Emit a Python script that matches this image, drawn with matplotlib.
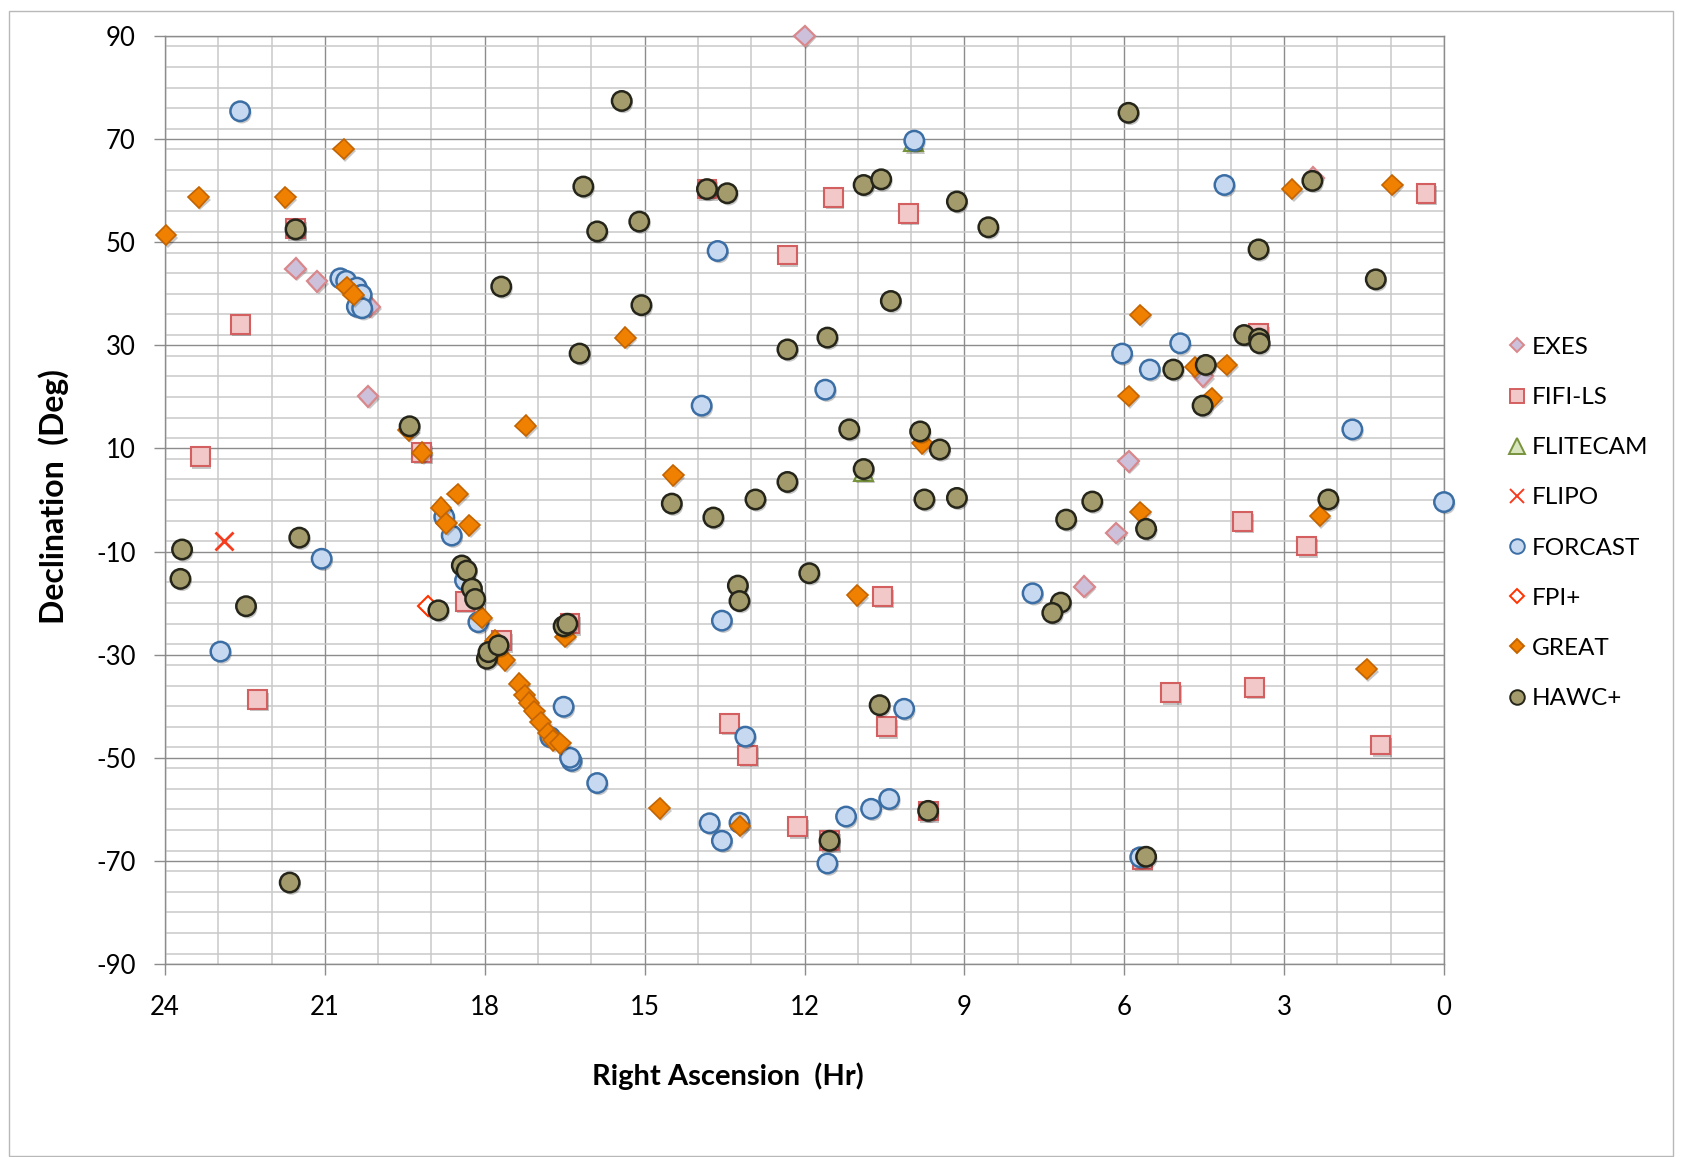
import matplotlib
matplotlib.use("Agg")
import matplotlib.pyplot as plt
import matplotlib.patheffects as pe
from matplotlib.lines import Line2D
from matplotlib.patches import Rectangle
from matplotlib.ticker import MultipleLocator

plt.rcParams['font.family'] = ['Lato', 'DejaVu Sans']
plt.rcParams['axes.unicode_minus'] = False

# target positions per instrument: right ascension (hr), declination (deg)
exes_ra = [12.0, 21.55, 21.15, 20.15, 20.19, 5.92, 6.15, 6.75, 4.52, 2.45]
exes_dec = [90.0, 44.9, 42.4, 37.5, 20.1, 7.5, -6.4, -16.8, 24.0, 62.5]

fifi_ra = [22.59, 23.34, 22.26, 19.18, 21.55, 18.37, 17.68, 16.40, 13.41, 13.07,
           12.13, 10.53, 10.46, 11.53, 9.68, 11.46, 10.05, 12.32, 13.83, 0.34,
           3.78, 2.58, 3.48, 5.13, 3.56, 1.19, 5.66]
fifi_dec = [34.1, 8.4, -38.7, 9.2, 52.6, -19.7, -27.3, -24.0, -43.3, -49.5,
            -63.4, -18.7, -44.0, -66.1, -60.3, 58.7, 55.6, 47.5, 60.3, 59.5,
            -4.1, -8.9, 32.3, -37.4, -36.3, -47.5, -69.7]

flitecam_ra = [9.95, 10.89]
flitecam_dec = [69.5, 5.6]

flipo_ra = [22.9]
flipo_dec = [-8.0]

forcast_ra = [22.59, 20.71, 20.60, 20.40, 20.31, 20.40, 20.30, 21.06, 22.96, 18.76,
              18.62, 18.37, 18.12, 16.52, 16.77, 16.37, 16.40, 15.89, 13.78, 13.55,
              13.22, 13.55, 13.11, 11.57, 11.22, 10.75, 10.41, 10.13, 13.63, 9.94,
              13.93, 11.61, 4.12, 6.04, 4.95, 5.52, 1.72, 0.0, 7.72, 5.70]
forcast_dec = [75.4, 43.0, 42.5, 41.2, 39.8, 37.5, 37.2, -11.4, -29.4, -3.3,
               -6.9, -15.6, -23.7, -40.1, -46.0, -50.6, -50.0, -54.9, -62.7, -66.1,
               -62.6, -23.4, -45.9, -70.5, -61.4, -59.9, -58.0, -40.5, 48.3, 69.7,
               18.3, 21.4, 61.1, 28.4, 30.4, 25.3, 13.7, -0.4, -18.1, -69.3]

fpi_ra = [19.06]
fpi_dec = [-20.6]

great_ra = [20.65, 23.37, 21.74, 23.98, 20.59, 20.46, 17.23, 19.18, 19.43, 18.51,
            18.82, 18.72, 18.29, 18.06, 17.80, 17.62, 17.35, 17.25, 17.17, 17.07,
            16.95, 16.81, 16.71, 16.58, 14.72, 13.21, 11.01, 16.49, 15.36, 14.46,
            9.79, 5.70, 5.92, 4.67, 4.08, 4.36, 5.70, 5.59, 2.33, 2.85,
            0.97, 1.45]
great_dec = [68.1, 58.7, 58.7, 51.4, 41.3, 39.8, 14.4, 9.2, 13.5, 1.2,
             -1.5, -4.5, -4.9, -22.8, -27.3, -31.1, -35.6, -37.9, -39.3, -41.0,
             -43.1, -45.2, -46.6, -47.2, -59.8, -63.2, -18.5, -26.5, 31.5, 4.8,
             11.0, 35.9, 20.2, 25.8, 26.2, 19.7, -2.3, -5.4, -3.1, 60.3,
             61.1, -32.8]

hawc_ra = [21.55, 17.69, 19.41, 23.68, 23.71, 21.48, 18.43, 18.34, 18.24, 18.18,
           18.87, 22.48, 21.66, 17.96, 17.93, 17.74, 16.52, 16.45, 13.25, 13.22,
           10.59, 11.53, 9.68, 15.43, 16.15, 15.89, 15.10, 13.83, 13.45, 10.89,
           10.56, 9.14, 15.06, 10.38, 16.22, 12.32, 11.57, 11.16, 9.83, 9.46,
           10.89, 12.32, 12.92, 13.71, 14.49, 9.75, 9.14, 11.91, 5.92, 8.55,
           3.48, 1.28, 2.47, 3.75, 3.47, 3.46, 5.08, 4.47, 4.53, 7.09,
           6.60, 2.17, 5.59, 7.19, 7.35, 5.59]
hawc_dec = [52.5, 41.4, 14.3, -9.6, -15.3, -7.3, -12.7, -13.7, -17.2, -19.2,
            -21.4, -20.6, -74.2, -30.8, -29.5, -28.2, -24.5, -24.0, -16.6, -19.6,
            -39.8, -66.1, -60.3, 77.4, 60.8, 52.1, 54.0, 60.3, 59.5, 61.1,
            62.2, 57.9, 37.8, 38.6, 28.4, 29.2, 31.5, 13.7, 13.3, 9.8,
            6.0, 3.5, 0.1, -3.4, -0.7, 0.1, 0.4, -14.2, 75.1, 52.9,
            48.6, 42.8, 61.9, 32.0, 31.3, 30.4, 25.3, 26.2, 18.3, -3.8,
            -0.3, 0.1, -5.6, -19.9, -21.9, -69.2]

instruments = ['EXES', 'FIFI-LS', 'FLITECAM', 'FLIPO', 'FORCAST', 'FPI+', 'GREAT', 'HAWC+']
ra_lists = [exes_ra, fifi_ra, flitecam_ra, flipo_ra, forcast_ra, fpi_ra, great_ra, hawc_ra]
dec_lists = [exes_dec, fifi_dec, flitecam_dec, flipo_dec, forcast_dec, fpi_dec, great_dec, hawc_dec]

# marker, size, face, edge, edge width
styles = [
    ('D', 10.5, '#ccc0da', '#d9878a', 1.6),
    ('s', 13.5, '#f2c8c8', '#d45f60', 1.5),
    ('^', 14.0, '#d7e4bd', '#77933c', 1.5),
    ('x', 13.0, '#f53c1e', '#f53c1e', 2.0),
    ('o', 14.0, '#c6d9f1', '#3b6ea5', 1.8),
    ('D', 10.0, 'white', '#ff3300', 1.5),
    ('D', 10.5, '#f08000', '#c46400', 1.2),
    ('o', 14.0, '#a39b6b', '#25251a', 1.8),
]
legend_sizes = [7.5, 10.5, 11.0, 10.0, 10.5, 7.5, 7.5, 10.5]

fig = plt.figure(figsize=(16.84, 11.57), dpi=100)
fig.subplots_adjust(left=165 / 1684, right=1444 / 1684, top=1 - 36 / 1157, bottom=1 - 964 / 1157)
ax = fig.add_subplot(111)

shadow = [pe.SimplePatchShadow(offset=(1.2, -1.8), shadow_rgbFace='black', alpha=0.22), pe.Normal()]

handles = []
for name, ra, dec, (mk, ms, fc, ec, mew), lms in zip(instruments, ra_lists, dec_lists, styles, legend_sizes):
    ax.plot(ra, dec, ls='none', marker=mk, markersize=ms, markerfacecolor=fc,
            markeredgecolor=ec, markeredgewidth=mew, clip_on=False, zorder=3,
            path_effects=shadow if mk != 'x' else None)
    handles.append(Line2D([], [], ls='none', marker=mk, markersize=lms, markerfacecolor=fc,
                          markeredgecolor=ec, markeredgewidth=1.4))

ax.set_xlim(24, 0)
ax.set_ylim(-90, 90)
ax.xaxis.set_major_locator(MultipleLocator(3))
ax.xaxis.set_minor_locator(MultipleLocator(1))
ax.set_yticks(range(-90, 91, 20))
ax.yaxis.set_minor_locator(MultipleLocator(4))

ax.set_axisbelow(True)
ax.grid(which='major', color='#8c8c8c', lw=1.0)
ax.grid(which='minor', color='#c9c9c9', lw=1.1)
for s in ax.spines.values():
    s.set_color('#8c8c8c')
    s.set_linewidth(1.0)

ax.tick_params(which='major', direction='out', length=8, width=1.0, color='#8c8c8c',
               labelsize=18.5, labelcolor='black')
ax.tick_params(axis='y', which='major', pad=13)
ax.tick_params(axis='x', which='major', pad=14)
ax.tick_params(which='minor', length=0)

fig.text(54 / 1684, 1 - 497 / 1157, 'Declination  (Deg)', rotation=90, ha='center', va='center',
         fontsize=23, fontweight='bold')
fig.text(728 / 1684, 1 - 1076 / 1157, 'Right Ascension  (Hr)', ha='center', va='center',
         fontsize=21, fontweight='bold')

fig.legend(handles, instruments, loc='center left', bbox_to_anchor=(1498 / 1684, 1 - 523 / 1157),
           frameon=False, fontsize=17.5, borderpad=0, handlelength=0.6, handletextpad=0.3,
           labelspacing=1.2)

fig.add_artist(Rectangle((9 / 1684, 1 / 1157), 1664 / 1684, 1145 / 1157, transform=fig.transFigure,
                         fill=False, edgecolor='#b8b8b8', lw=1.0))

fig.savefig('out.png', dpi=100)
